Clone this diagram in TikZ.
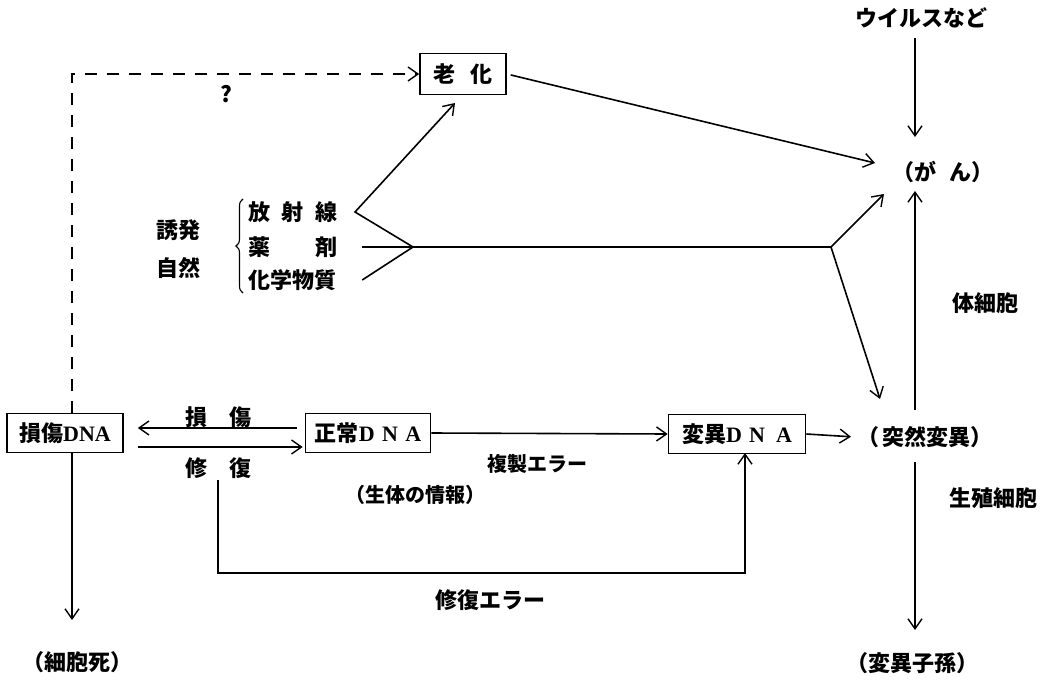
\documentclass[tikz,border=0pt]{standalone}
\usepackage{fontspec}
\setmainfont{Noto Sans CJK JP}
\newfontfamily\lserif{Liberation Serif}
\usetikzlibrary{arrows.meta,decorations.pathreplacing}
\newcommand{\dna}[1]{{\lserif\bfseries #1}}
\begin{document}
\begin{tikzpicture}[x=1pt,y=-1pt,
  every node/.style={font=\fontsize{22}{24}\selectfont\bfseries, inner sep=2pt},
  small/.style={font=\fontsize{20}{22}\selectfont\bfseries},
  box/.style={draw, line width=1.6pt, minimum height=39pt, inner sep=3pt},
  arr/.style={-{Straight Barb[length=10pt,width=14pt,line width=1.4pt]}, line width=1.6pt},
  ln/.style={line width=1.6pt},
  dsh/.style={arr, dash pattern=on 12pt off 10pt}]
\useasboundingbox (0,0) rectangle (1055,685);

% boxes
\node[box, minimum width=86pt, minimum height=41pt] (roka) at (463,74) {老\hspace{0.7em}化};
\node[box, minimum width=116pt] (sonsho) at (65,433) {損傷\dna{DNA}};
\node[box, minimum width=125pt] (seijo) at (368,433) {正常\dna{D\,\,N\,\,A}};
\node[box, minimum width=137pt] (heni) at (737,434) {変異\dna{D\,\,N\,\,\,A}};

% text nodes
\node (virus) at (921,18) {ウイルスなど};
\node (gan) at (943,172) {（が\hspace{0.6em}ん）};
\node (totsu) at (925,437) {（\,突然変異）};
\node (saibo) at (77,662) {（細胞死）};
\node (shison) at (912,663) {（変異子孫）};
\node (taisai) at (985,303) {体細胞};
\node (seishoku) at (993,498) {生殖細胞};
\node[small] (fukusei) at (537,464) {複製エラー};
\node[small] (seitai) at (415,495) {（生体の情報）};
\node (shufukuerr) at (490,600) {修復エラー};
\node (lsonsho) at (218,417) {損\hspace{1em}傷};
\node (lshufuku) at (218,468) {修\hspace{1em}復};
\node (q) at (226,94) {?};
\node (yuhatsu) at (178,230) {誘発};
\node (shizen) at (178,268) {自然};
\node[inner sep=0pt] (hosha) at (293,212) {\makebox[90pt][s]{放\hfil 射\hfil 線}};
\node[inner sep=0pt] (yakuzai) at (293,247) {\makebox[90pt][s]{薬\hfil 剤}};
\node[inner sep=0pt] (kagaku) at (293,280) {\makebox[90pt][s]{化学物質}};

% brace
\draw[line width=1.1pt, decorate, decoration={brace, amplitude=7pt}] (243,293) -- (243,199);

% coordinates
\coordinate (p1) at (355,212);
\coordinate (conv) at (413,247);
\coordinate (j) at (831,247);
\coordinate (rokain) at (455,103);
\coordinate (ganin) at (875,163);
\coordinate (ganin2) at (884,194);
\coordinate (totin) at (880,399);
\coordinate (vtop) at (915,38);
\coordinate (vend) at (915,137);
\coordinate (tb) at (915,410);
\coordinate (tt) at (915,191);
\coordinate (bb) at (915,462);
\coordinate (be) at (915,630);
\coordinate (sdtop) at (72,413);
\coordinate (sdbot) at (72,453);
\coordinate (sd) at (72,620);
\coordinate (l1) at (218,480);
\coordinate (l2) at (218,573);
\coordinate (hb) at (745,453);

% connectors
\draw[dsh] (sdtop) -- (sdtop |- roka.west) -- (roka.west);
\draw[arr, shorten <=4pt] (roka.east) -- (ganin);
\draw[arr] (vtop) -- (vend);
\draw[arr] (tb) -- (tt);
\draw[arr] (bb) -- (be);
\draw[arr] (sdbot) -- (sd);
\draw[arr, shorten <=8pt, shorten >=14pt] ([yshift=5pt]seijo.west) -- ([yshift=5pt]sonsho.east);
\draw[arr, shorten <=14pt, shorten >=2pt] ([yshift=-14pt]sonsho.east) -- ([yshift=-14pt]seijo.west);
\draw[arr] (seijo.east) -- (heni.west);
\draw[arr, shorten >=4pt] (heni.east) -- (totsu.west);
\draw[arr] (conv) -- (p1) -- (rokain);
\draw[ln] ([xshift=24pt]yakuzai.east) -- (j);
\draw[ln] ([xshift=24pt]kagaku.east) -- (conv);
\draw[arr] (j) -- (ganin2);
\draw[arr] (j) -- (totin);
\draw[arr] (l1) -- (l2) -| (hb);
\end{tikzpicture}
\end{document}
